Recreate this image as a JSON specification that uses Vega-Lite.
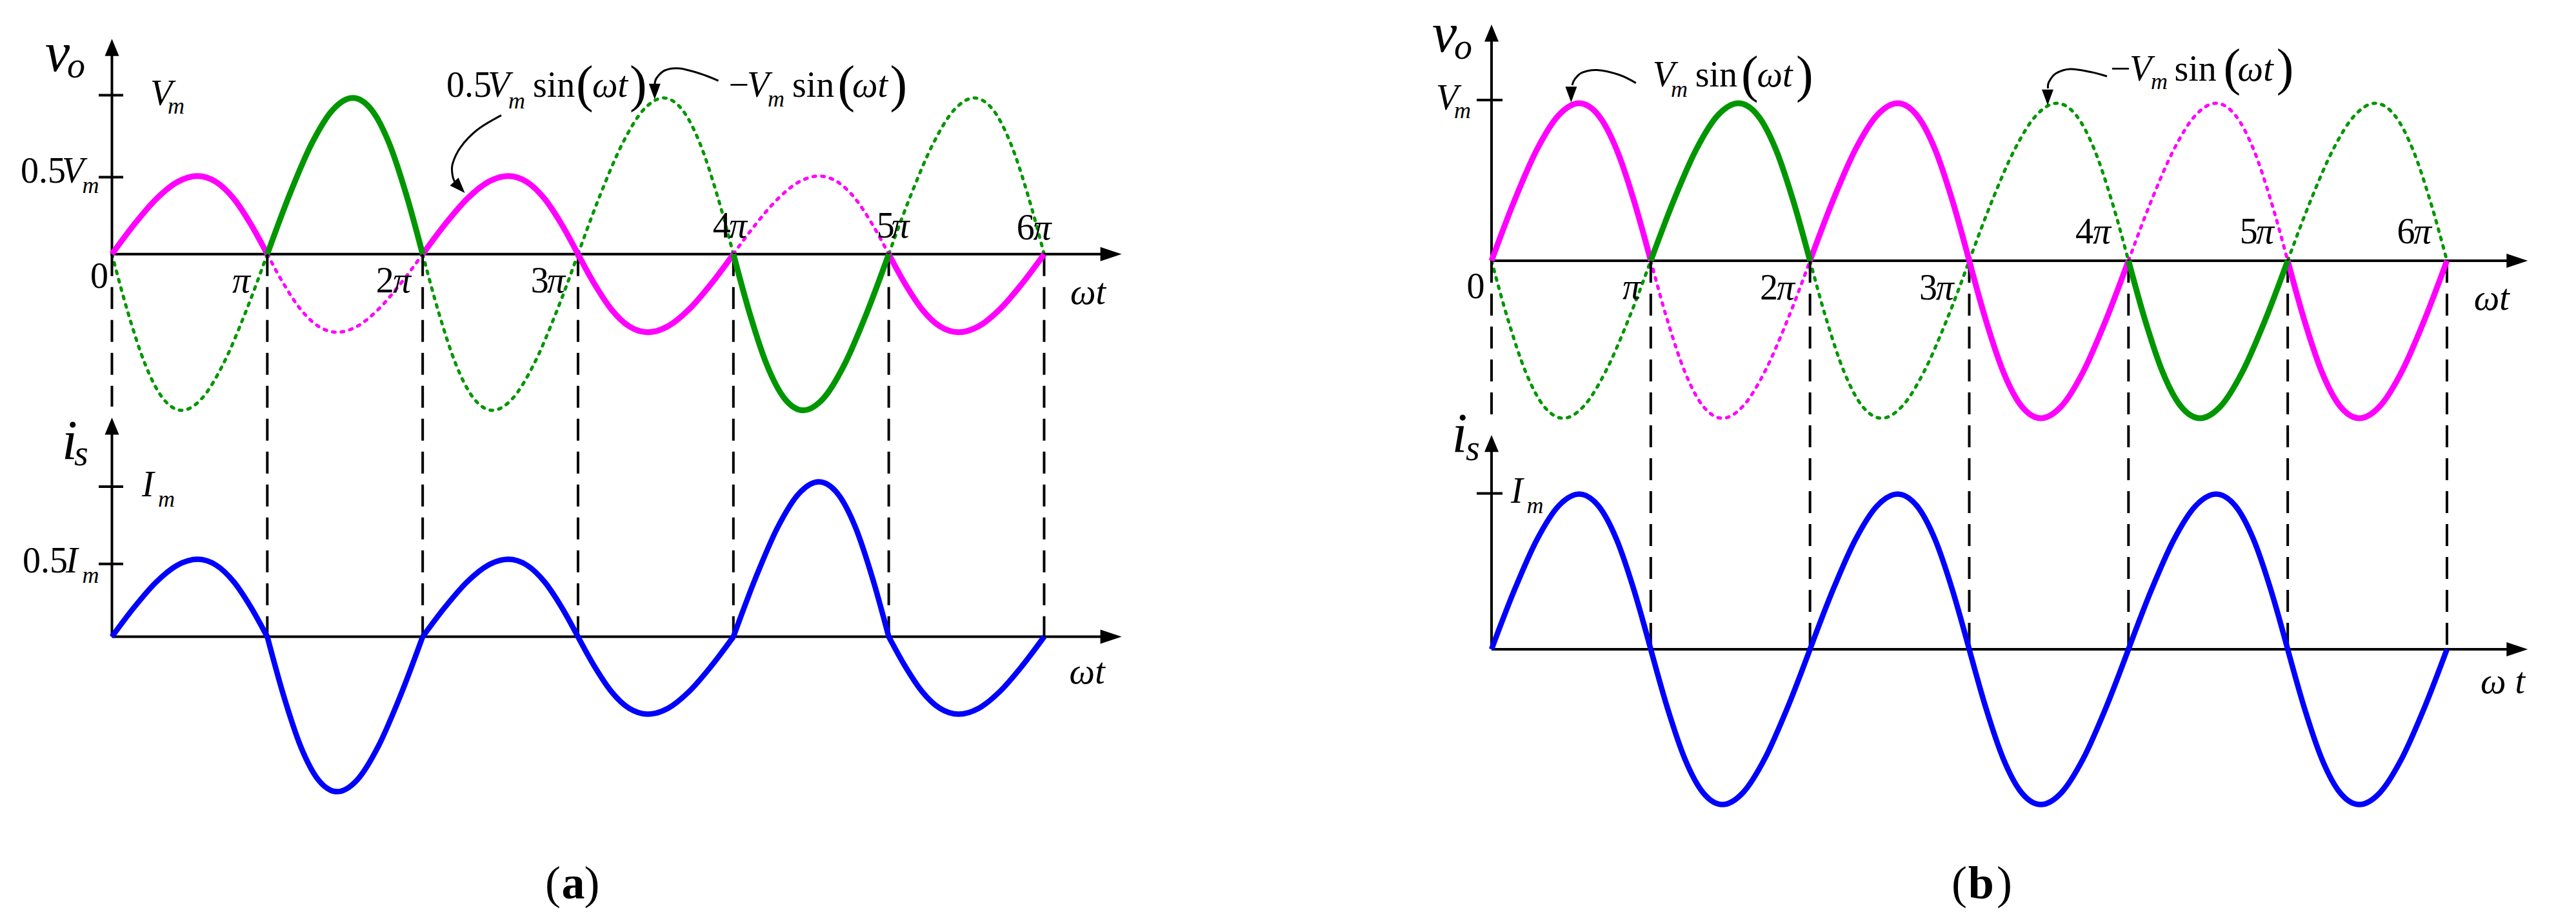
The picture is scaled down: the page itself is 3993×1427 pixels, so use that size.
{
"$schema": "https://vega.github.io/schema/vega-lite/v6.json",
"width": 3993, "height": 1427,
"autosize": {"type": "fit", "contains": "padding"},
"padding": 0,
"background": "white",
"config": {"view": {"stroke": null}, "axis": {"disable": true}, "legend": {"disable": true}},
"resolve": {"scale": {"x": "independent", "y": "independent"}},
"datasets": {
"avo": [
{"k":"gd","g":0,"x":0,"y":0},{"k":"gd","g":0,"x":0.1059,"y":-0.3827},{"k":"gd","g":0,"x":0.2146,"y":-0.7071},{"k":"gd","g":0,"x":0.3288,"y":-0.9239},{"k":"gd","g":0,"x":0.45,"y":-1},{"k":"gd","g":0,"x":0.5788,"y":-0.9239},{"k":"gd","g":0,"x":0.7146,"y":-0.7071},{"k":"gd","g":0,"x":0.8559,"y":-0.3827},{"k":"gd","g":0,"x":1,"y":0},
{"k":"gd","g":2,"x":2,"y":0},{"k":"gd","g":2,"x":2.1059,"y":-0.3827},{"k":"gd","g":2,"x":2.2146,"y":-0.7071},{"k":"gd","g":2,"x":2.3288,"y":-0.9239},{"k":"gd","g":2,"x":2.45,"y":-1},{"k":"gd","g":2,"x":2.5788,"y":-0.9239},{"k":"gd","g":2,"x":2.7146,"y":-0.7071},{"k":"gd","g":2,"x":2.8559,"y":-0.3827},{"k":"gd","g":2,"x":3,"y":0},
{"k":"gd","g":3,"x":3,"y":0},{"k":"gd","g":3,"x":3.1441,"y":0.3827},{"k":"gd","g":3,"x":3.2854,"y":0.7071},{"k":"gd","g":3,"x":3.4212,"y":0.9239},{"k":"gd","g":3,"x":3.55,"y":1},{"k":"gd","g":3,"x":3.6712,"y":0.9239},{"k":"gd","g":3,"x":3.7854,"y":0.7071},{"k":"gd","g":3,"x":3.8941,"y":0.3827},{"k":"gd","g":3,"x":4,"y":0},
{"k":"gd","g":5,"x":5,"y":0},{"k":"gd","g":5,"x":5.1441,"y":0.3827},{"k":"gd","g":5,"x":5.2854,"y":0.7071},{"k":"gd","g":5,"x":5.4212,"y":0.9239},{"k":"gd","g":5,"x":5.55,"y":1},{"k":"gd","g":5,"x":5.6712,"y":0.9239},{"k":"gd","g":5,"x":5.7854,"y":0.7071},{"k":"gd","g":5,"x":5.8941,"y":0.3827},{"k":"gd","g":5,"x":6,"y":0},
{"k":"md","g":1,"x":1,"y":0},{"k":"md","g":1,"x":1.1059,"y":-0.1913},{"k":"md","g":1,"x":1.2146,"y":-0.3536},{"k":"md","g":1,"x":1.3288,"y":-0.4619},{"k":"md","g":1,"x":1.45,"y":-0.5},{"k":"md","g":1,"x":1.5788,"y":-0.4619},{"k":"md","g":1,"x":1.7146,"y":-0.3536},{"k":"md","g":1,"x":1.8559,"y":-0.1913},{"k":"md","g":1,"x":2,"y":0},
{"k":"md","g":4,"x":4,"y":0},{"k":"md","g":4,"x":4.1441,"y":0.1913},{"k":"md","g":4,"x":4.2854,"y":0.3536},{"k":"md","g":4,"x":4.4212,"y":0.4619},{"k":"md","g":4,"x":4.55,"y":0.5},{"k":"md","g":4,"x":4.6712,"y":0.4619},{"k":"md","g":4,"x":4.7854,"y":0.3536},{"k":"md","g":4,"x":4.8941,"y":0.1913},{"k":"md","g":4,"x":5,"y":0},
{"k":"ms","g":0,"x":0,"y":0},{"k":"ms","g":0,"x":0.1441,"y":0.1913},{"k":"ms","g":0,"x":0.2854,"y":0.3536},{"k":"ms","g":0,"x":0.4212,"y":0.4619},{"k":"ms","g":0,"x":0.55,"y":0.5},{"k":"ms","g":0,"x":0.6712,"y":0.4619},{"k":"ms","g":0,"x":0.7854,"y":0.3536},{"k":"ms","g":0,"x":0.8941,"y":0.1913},{"k":"ms","g":0,"x":1,"y":0},
{"k":"ms","g":2,"x":2,"y":0},{"k":"ms","g":2,"x":2.1441,"y":0.1913},{"k":"ms","g":2,"x":2.2854,"y":0.3536},{"k":"ms","g":2,"x":2.4212,"y":0.4619},{"k":"ms","g":2,"x":2.55,"y":0.5},{"k":"ms","g":2,"x":2.6712,"y":0.4619},{"k":"ms","g":2,"x":2.7854,"y":0.3536},{"k":"ms","g":2,"x":2.8941,"y":0.1913},{"k":"ms","g":2,"x":3,"y":0},
{"k":"ms","g":3,"x":3,"y":0},{"k":"ms","g":3,"x":3.1059,"y":-0.1913},{"k":"ms","g":3,"x":3.2146,"y":-0.3536},{"k":"ms","g":3,"x":3.3288,"y":-0.4619},{"k":"ms","g":3,"x":3.45,"y":-0.5},{"k":"ms","g":3,"x":3.5788,"y":-0.4619},{"k":"ms","g":3,"x":3.7146,"y":-0.3536},{"k":"ms","g":3,"x":3.8559,"y":-0.1913},{"k":"ms","g":3,"x":4,"y":0},
{"k":"ms","g":5,"x":5,"y":0},{"k":"ms","g":5,"x":5.1059,"y":-0.1913},{"k":"ms","g":5,"x":5.2146,"y":-0.3536},{"k":"ms","g":5,"x":5.3288,"y":-0.4619},{"k":"ms","g":5,"x":5.45,"y":-0.5},{"k":"ms","g":5,"x":5.5788,"y":-0.4619},{"k":"ms","g":5,"x":5.7146,"y":-0.3536},{"k":"ms","g":5,"x":5.8559,"y":-0.1913},{"k":"ms","g":5,"x":6,"y":0},
{"k":"gs","g":1,"x":1,"y":0},{"k":"gs","g":1,"x":1.1441,"y":0.3827},{"k":"gs","g":1,"x":1.2854,"y":0.7071},{"k":"gs","g":1,"x":1.4212,"y":0.9239},{"k":"gs","g":1,"x":1.55,"y":1},{"k":"gs","g":1,"x":1.6712,"y":0.9239},{"k":"gs","g":1,"x":1.7854,"y":0.7071},{"k":"gs","g":1,"x":1.8941,"y":0.3827},{"k":"gs","g":1,"x":2,"y":0},
{"k":"gs","g":4,"x":4,"y":0},{"k":"gs","g":4,"x":4.1059,"y":-0.3827},{"k":"gs","g":4,"x":4.2146,"y":-0.7071},{"k":"gs","g":4,"x":4.3288,"y":-0.9239},{"k":"gs","g":4,"x":4.45,"y":-1},{"k":"gs","g":4,"x":4.5788,"y":-0.9239},{"k":"gs","g":4,"x":4.7146,"y":-0.7071},{"k":"gs","g":4,"x":4.8559,"y":-0.3827},{"k":"gs","g":4,"x":5,"y":0}
],
"ais": [
{"g":0,"x":0,"y":0},{"g":0,"x":0.1441,"y":0.1913},{"g":0,"x":0.2854,"y":0.3536},{"g":0,"x":0.4212,"y":0.4619},{"g":0,"x":0.55,"y":0.5},{"g":0,"x":0.6712,"y":0.4619},{"g":0,"x":0.7854,"y":0.3536},{"g":0,"x":0.8941,"y":0.1913},{"g":0,"x":1,"y":0},
{"g":1,"x":1,"y":0},{"g":1,"x":1.1059,"y":-0.3827},{"g":1,"x":1.2146,"y":-0.7071},{"g":1,"x":1.3288,"y":-0.9239},{"g":1,"x":1.45,"y":-1},{"g":1,"x":1.5788,"y":-0.9239},{"g":1,"x":1.7146,"y":-0.7071},{"g":1,"x":1.8559,"y":-0.3827},{"g":1,"x":2,"y":0},
{"g":2,"x":2,"y":0},{"g":2,"x":2.1441,"y":0.1913},{"g":2,"x":2.2854,"y":0.3536},{"g":2,"x":2.4212,"y":0.4619},{"g":2,"x":2.55,"y":0.5},{"g":2,"x":2.6712,"y":0.4619},{"g":2,"x":2.7854,"y":0.3536},{"g":2,"x":2.8941,"y":0.1913},{"g":2,"x":3,"y":0},
{"g":3,"x":3,"y":0},{"g":3,"x":3.1059,"y":-0.1913},{"g":3,"x":3.2146,"y":-0.3536},{"g":3,"x":3.3288,"y":-0.4619},{"g":3,"x":3.45,"y":-0.5},{"g":3,"x":3.5788,"y":-0.4619},{"g":3,"x":3.7146,"y":-0.3536},{"g":3,"x":3.8559,"y":-0.1913},{"g":3,"x":4,"y":0},
{"g":4,"x":4,"y":0},{"g":4,"x":4.1441,"y":0.3827},{"g":4,"x":4.2854,"y":0.7071},{"g":4,"x":4.4212,"y":0.9239},{"g":4,"x":4.55,"y":1},{"g":4,"x":4.6712,"y":0.9239},{"g":4,"x":4.7854,"y":0.7071},{"g":4,"x":4.8941,"y":0.3827},{"g":4,"x":5,"y":0},
{"g":5,"x":5,"y":0},{"g":5,"x":5.1059,"y":-0.1913},{"g":5,"x":5.2146,"y":-0.3536},{"g":5,"x":5.3288,"y":-0.4619},{"g":5,"x":5.45,"y":-0.5},{"g":5,"x":5.5788,"y":-0.4619},{"g":5,"x":5.7146,"y":-0.3536},{"g":5,"x":5.8559,"y":-0.1913},{"g":5,"x":6,"y":0}
],
"bvo": [
{"k":"gd","g":0,"x":0,"y":0},{"k":"gd","g":0,"x":0.1059,"y":-0.3827},{"k":"gd","g":0,"x":0.2146,"y":-0.7071},{"k":"gd","g":0,"x":0.3288,"y":-0.9239},{"k":"gd","g":0,"x":0.45,"y":-1},{"k":"gd","g":0,"x":0.5788,"y":-0.9239},{"k":"gd","g":0,"x":0.7146,"y":-0.7071},{"k":"gd","g":0,"x":0.8559,"y":-0.3827},{"k":"gd","g":0,"x":1,"y":0},
{"k":"gd","g":2,"x":2,"y":0},{"k":"gd","g":2,"x":2.1059,"y":-0.3827},{"k":"gd","g":2,"x":2.2146,"y":-0.7071},{"k":"gd","g":2,"x":2.3288,"y":-0.9239},{"k":"gd","g":2,"x":2.45,"y":-1},{"k":"gd","g":2,"x":2.5788,"y":-0.9239},{"k":"gd","g":2,"x":2.7146,"y":-0.7071},{"k":"gd","g":2,"x":2.8559,"y":-0.3827},{"k":"gd","g":2,"x":3,"y":0},
{"k":"gd","g":3,"x":3,"y":0},{"k":"gd","g":3,"x":3.1441,"y":0.3827},{"k":"gd","g":3,"x":3.2854,"y":0.7071},{"k":"gd","g":3,"x":3.4212,"y":0.9239},{"k":"gd","g":3,"x":3.55,"y":1},{"k":"gd","g":3,"x":3.6712,"y":0.9239},{"k":"gd","g":3,"x":3.7854,"y":0.7071},{"k":"gd","g":3,"x":3.8941,"y":0.3827},{"k":"gd","g":3,"x":4,"y":0},
{"k":"gd","g":5,"x":5,"y":0},{"k":"gd","g":5,"x":5.1441,"y":0.3827},{"k":"gd","g":5,"x":5.2854,"y":0.7071},{"k":"gd","g":5,"x":5.4212,"y":0.9239},{"k":"gd","g":5,"x":5.55,"y":1},{"k":"gd","g":5,"x":5.6712,"y":0.9239},{"k":"gd","g":5,"x":5.7854,"y":0.7071},{"k":"gd","g":5,"x":5.8941,"y":0.3827},{"k":"gd","g":5,"x":6,"y":0},
{"k":"md","g":1,"x":1,"y":0},{"k":"md","g":1,"x":1.1059,"y":-0.3827},{"k":"md","g":1,"x":1.2146,"y":-0.7071},{"k":"md","g":1,"x":1.3288,"y":-0.9239},{"k":"md","g":1,"x":1.45,"y":-1},{"k":"md","g":1,"x":1.5788,"y":-0.9239},{"k":"md","g":1,"x":1.7146,"y":-0.7071},{"k":"md","g":1,"x":1.8559,"y":-0.3827},{"k":"md","g":1,"x":2,"y":0},
{"k":"md","g":4,"x":4,"y":0},{"k":"md","g":4,"x":4.1441,"y":0.3827},{"k":"md","g":4,"x":4.2854,"y":0.7071},{"k":"md","g":4,"x":4.4212,"y":0.9239},{"k":"md","g":4,"x":4.55,"y":1},{"k":"md","g":4,"x":4.6712,"y":0.9239},{"k":"md","g":4,"x":4.7854,"y":0.7071},{"k":"md","g":4,"x":4.8941,"y":0.3827},{"k":"md","g":4,"x":5,"y":0},
{"k":"ms","g":0,"x":0,"y":0},{"k":"ms","g":0,"x":0.1441,"y":0.3827},{"k":"ms","g":0,"x":0.2854,"y":0.7071},{"k":"ms","g":0,"x":0.4212,"y":0.9239},{"k":"ms","g":0,"x":0.55,"y":1},{"k":"ms","g":0,"x":0.6712,"y":0.9239},{"k":"ms","g":0,"x":0.7854,"y":0.7071},{"k":"ms","g":0,"x":0.8941,"y":0.3827},{"k":"ms","g":0,"x":1,"y":0},
{"k":"ms","g":2,"x":2,"y":0},{"k":"ms","g":2,"x":2.1441,"y":0.3827},{"k":"ms","g":2,"x":2.2854,"y":0.7071},{"k":"ms","g":2,"x":2.4212,"y":0.9239},{"k":"ms","g":2,"x":2.55,"y":1},{"k":"ms","g":2,"x":2.6712,"y":0.9239},{"k":"ms","g":2,"x":2.7854,"y":0.7071},{"k":"ms","g":2,"x":2.8941,"y":0.3827},{"k":"ms","g":2,"x":3,"y":0},
{"k":"ms","g":3,"x":3,"y":0},{"k":"ms","g":3,"x":3.1059,"y":-0.3827},{"k":"ms","g":3,"x":3.2146,"y":-0.7071},{"k":"ms","g":3,"x":3.3288,"y":-0.9239},{"k":"ms","g":3,"x":3.45,"y":-1},{"k":"ms","g":3,"x":3.5788,"y":-0.9239},{"k":"ms","g":3,"x":3.7146,"y":-0.7071},{"k":"ms","g":3,"x":3.8559,"y":-0.3827},{"k":"ms","g":3,"x":4,"y":0},
{"k":"ms","g":5,"x":5,"y":0},{"k":"ms","g":5,"x":5.1059,"y":-0.3827},{"k":"ms","g":5,"x":5.2146,"y":-0.7071},{"k":"ms","g":5,"x":5.3288,"y":-0.9239},{"k":"ms","g":5,"x":5.45,"y":-1},{"k":"ms","g":5,"x":5.5788,"y":-0.9239},{"k":"ms","g":5,"x":5.7146,"y":-0.7071},{"k":"ms","g":5,"x":5.8559,"y":-0.3827},{"k":"ms","g":5,"x":6,"y":0},
{"k":"gs","g":1,"x":1,"y":0},{"k":"gs","g":1,"x":1.1441,"y":0.3827},{"k":"gs","g":1,"x":1.2854,"y":0.7071},{"k":"gs","g":1,"x":1.4212,"y":0.9239},{"k":"gs","g":1,"x":1.55,"y":1},{"k":"gs","g":1,"x":1.6712,"y":0.9239},{"k":"gs","g":1,"x":1.7854,"y":0.7071},{"k":"gs","g":1,"x":1.8941,"y":0.3827},{"k":"gs","g":1,"x":2,"y":0},
{"k":"gs","g":4,"x":4,"y":0},{"k":"gs","g":4,"x":4.1059,"y":-0.3827},{"k":"gs","g":4,"x":4.2146,"y":-0.7071},{"k":"gs","g":4,"x":4.3288,"y":-0.9239},{"k":"gs","g":4,"x":4.45,"y":-1},{"k":"gs","g":4,"x":4.5788,"y":-0.9239},{"k":"gs","g":4,"x":4.7146,"y":-0.7071},{"k":"gs","g":4,"x":4.8559,"y":-0.3827},{"k":"gs","g":4,"x":5,"y":0}
],
"bis": [
{"g":0,"x":0,"y":0},{"g":0,"x":0.1441,"y":0.3827},{"g":0,"x":0.2854,"y":0.7071},{"g":0,"x":0.4212,"y":0.9239},{"g":0,"x":0.55,"y":1},{"g":0,"x":0.6712,"y":0.9239},{"g":0,"x":0.7854,"y":0.7071},{"g":0,"x":0.8941,"y":0.3827},{"g":0,"x":1,"y":0},
{"g":1,"x":1,"y":0},{"g":1,"x":1.1059,"y":-0.3827},{"g":1,"x":1.2146,"y":-0.7071},{"g":1,"x":1.3288,"y":-0.9239},{"g":1,"x":1.45,"y":-1},{"g":1,"x":1.5788,"y":-0.9239},{"g":1,"x":1.7146,"y":-0.7071},{"g":1,"x":1.8559,"y":-0.3827},{"g":1,"x":2,"y":0},
{"g":2,"x":2,"y":0},{"g":2,"x":2.1441,"y":0.3827},{"g":2,"x":2.2854,"y":0.7071},{"g":2,"x":2.4212,"y":0.9239},{"g":2,"x":2.55,"y":1},{"g":2,"x":2.6712,"y":0.9239},{"g":2,"x":2.7854,"y":0.7071},{"g":2,"x":2.8941,"y":0.3827},{"g":2,"x":3,"y":0},
{"g":3,"x":3,"y":0},{"g":3,"x":3.1059,"y":-0.3827},{"g":3,"x":3.2146,"y":-0.7071},{"g":3,"x":3.3288,"y":-0.9239},{"g":3,"x":3.45,"y":-1},{"g":3,"x":3.5788,"y":-0.9239},{"g":3,"x":3.7146,"y":-0.7071},{"g":3,"x":3.8559,"y":-0.3827},{"g":3,"x":4,"y":0},
{"g":4,"x":4,"y":0},{"g":4,"x":4.1441,"y":0.3827},{"g":4,"x":4.2854,"y":0.7071},{"g":4,"x":4.4212,"y":0.9239},{"g":4,"x":4.55,"y":1},{"g":4,"x":4.6712,"y":0.9239},{"g":4,"x":4.7854,"y":0.7071},{"g":4,"x":4.8941,"y":0.3827},{"g":4,"x":5,"y":0},
{"g":5,"x":5,"y":0},{"g":5,"x":5.1059,"y":-0.3827},{"g":5,"x":5.2146,"y":-0.7071},{"g":5,"x":5.3288,"y":-0.9239},{"g":5,"x":5.45,"y":-1},{"g":5,"x":5.5788,"y":-0.9239},{"g":5,"x":5.7146,"y":-0.7071},{"g":5,"x":5.8559,"y":-0.3827},{"g":5,"x":6,"y":0}
],
"adash": [{"x":0,"y":0,"y2":-0.976},{"x":1,"y":0,"y2":-2.4498},{"x":2,"y":0,"y2":-2.4498},{"x":3,"y":0,"y2":-2.4498},{"x":4,"y":0,"y2":-2.4498},{"x":5,"y":0,"y2":-2.4498},{"x":6,"y":0,"y2":-2.4498}],
"bdash": [{"x":0,"y":0,"y2":-1.008},{"x":1,"y":0,"y2":-2.4672},{"x":2,"y":0,"y2":-2.4672},{"x":3,"y":0,"y2":-2.4672},{"x":4,"y":0,"y2":-2.4672},{"x":5,"y":0,"y2":-2.4672},{"x":6,"y":0,"y2":-2.4672}],
"aax": [{"x":0,"x2":6.45,"y":0,"y2":0},{"x":0,"x2":0,"y":0,"y2":1.32},{"x":-0.085,"x2":0.0727,"y":1.018,"y2":1.018},{"x":-0.085,"x2":0.0727,"y":0.4928,"y2":0.4928}],
"aaxi": [{"x":0,"x2":6.45,"y":0,"y2":0},{"x":0,"x2":0,"y":0,"y2":1.36},{"x":-0.085,"x2":0.0727,"y":0.969,"y2":0.969},{"x":-0.085,"x2":0.0727,"y":0.47,"y2":0.47}],
"bax": [{"x":0,"x2":6.46,"y":0,"y2":0},{"x":0,"x2":0,"y":0,"y2":1.45},{"x":-0.0932,"x2":0.0689,"y":1.0205,"y2":1.0205}],
"baxi": [{"x":0,"x2":6.46,"y":0,"y2":0},{"x":0,"x2":0,"y":0,"y2":1.33},{"x":-0.0932,"x2":0.0689,"y":1.0037,"y2":1.0037}],
"ahd": [{"x":0,"y":1.378,"d":"up"},{"x":6.4988,"y":0,"d":"right"},{"x":2.2717,"y":0.3915,"d":"dr"},{"x":3.4933,"y":0.9907,"d":"dn"}],
"ahdi": [{"x":0,"y":1.415,"d":"up"},{"x":6.4988,"y":0,"d":"right"}],
"bhd": [{"x":0,"y":1.5,"d":"up"},{"x":6.5077,"y":0,"d":"right"},{"x":0.4999,"y":1.0061,"d":"dn"},{"x":3.4923,"y":0.9877,"d":"dn"}],
"bhdi": [{"x":0,"y":1.381,"d":"up"},{"x":6.5077,"y":0,"d":"right"}],
"aann": [
{"g":1,"o":0,"x":2.5059,"y":0.889},{"g":1,"o":1,"x":2.3523,"y":0.7965},{"g":1,"o":2,"x":2.2443,"y":0.6849},{"g":1,"o":3,"x":2.1924,"y":0.5775},{"g":1,"o":4,"x":2.1924,"y":0.5031},{"g":1,"o":5,"x":2.2069,"y":0.4618},
{"g":2,"o":0,"x":3.9036,"y":1.1105},{"g":2,"o":1,"x":3.7849,"y":1.156},{"g":2,"o":2,"x":3.652,"y":1.189},{"g":2,"o":3,"x":3.5594,"y":1.1767},{"g":2,"o":4,"x":3.5066,"y":1.1291},{"g":2,"o":5,"x":3.4942,"y":1.0899}
],
"bann": [
{"g":1,"o":0,"x":0.9067,"y":1.1287},{"g":1,"o":1,"x":0.8022,"y":1.1803},{"g":1,"o":2,"x":0.6624,"y":1.2111},{"g":1,"o":3,"x":0.5696,"y":1.1947},{"g":1,"o":4,"x":0.5226,"y":1.1525},{"g":1,"o":5,"x":0.5064,"y":1.1148},
{"g":2,"o":0,"x":3.865,"y":1.1709},{"g":2,"o":1,"x":3.7625,"y":1.1984},{"g":2,"o":2,"x":3.6341,"y":1.2172},{"g":2,"o":3,"x":3.5441,"y":1.1893},{"g":2,"o":4,"x":3.5004,"y":1.1352},{"g":2,"o":5,"x":3.4943,"y":1.0943}
],
"atxt": [
{"r":"n","x":-0.1391,"y":-0.2159,"t":"0"},{"r":"n","x":1.6995,"y":-0.2449,"t":"2"},{"r":"n","x":2.696,"y":-0.2449,"t":"3"},{"r":"n","x":3.8667,"y":0.1064,"t":"4"},{"r":"n","x":4.9214,"y":0.1064,"t":"5"},{"r":"n","x":5.8224,"y":0.0961,"t":"6"},
{"r":"n","x":-0.5876,"y":0.4576,"t":"0.5"},{"r":"n","x":2.153,"y":1.0072,"t":"0.5"},{"r":"n","x":2.7092,"y":1.0072,"t":"sin"},{"r":"n","x":3.97,"y":1.0089,"t":"−"},{"r":"n","x":4.3785,"y":1.0089,"t":"sin"},{"r":"n","x":-0.5751,"y":-2.0382,"t":"0.5"},
{"r":"v","x":0.7744,"y":-0.2449,"t":"π"},{"r":"v","x":1.8083,"y":-0.2449,"t":"π"},{"r":"v","x":2.8007,"y":-0.2449,"t":"π"},{"r":"v","x":3.9716,"y":0.1064,"t":"π"},{"r":"v","x":5.016,"y":0.1064,"t":"π"},{"r":"v","x":5.9295,"y":0.0961,"t":"π"},
{"r":"v","x":0.2471,"y":0.9556,"t":"V"},{"r":"v","x":-0.3218,"y":0.4576,"t":"V"},{"r":"v","x":2.4187,"y":1.0072,"t":"V"},{"r":"v","x":3.0914,"y":1.0072,"t":"ωt"},{"r":"v","x":4.0879,"y":1.0089,"t":"V"},{"r":"v","x":4.7647,"y":1.0089,"t":"ωt"},
{"r":"v","x":6.1683,"y":-0.3192,"t":"ωt"},{"r":"v","x":6.1625,"y":-2.749,"t":"ωt"},{"r":"v","x":0.1931,"y":-1.5506,"t":"I"},{"r":"v","x":-0.2969,"y":-2.0382,"t":"I"},{"r":"v","x":-0.2886,"y":1.1312,"t":"o"},{"r":"v","x":-0.2429,"y":-1.3523,"t":"s"},
{"r":"s","x":0.3592,"y":0.8998,"t":"m"},{"r":"s","x":-0.191,"y":0.3915,"t":"m"},{"r":"s","x":2.5516,"y":0.9349,"t":"m"},{"r":"s","x":4.2208,"y":0.9452,"t":"m"},{"r":"s","x":0.2969,"y":-1.6167,"t":"m"},{"r":"s","x":-0.191,"y":-2.1043,"t":"m"},
{"r":"V","x":-0.4298,"y":1.1725,"t":"v"},{"r":"V","x":-0.3218,"y":-1.311,"t":"i"},
{"r":"p","x":2.9876,"y":0.9783,"t":"("},{"r":"p","x":3.3323,"y":0.9783,"t":")"},{"r":"p","x":4.6718,"y":0.9783,"t":"("},{"r":"p","x":5.0081,"y":0.9783,"t":")"},
{"r":"q","x":2.7882,"y":-4.125,"t":"("},{"r":"q","x":3.0399,"y":-4.125,"t":")"},{"r":"b","x":2.8942,"y":-4.125,"t":"a"}
],
"btxt": [
{"r":"n","x":-0.156,"y":-0.2377,"t":"0"},{"r":"n","x":1.6854,"y":-0.2459,"t":"2"},{"r":"n","x":2.6861,"y":-0.2459,"t":"3"},{"r":"n","x":3.6665,"y":0.1107,"t":"4"},{"r":"n","x":4.6988,"y":0.1107,"t":"5"},{"r":"n","x":5.6865,"y":0.1107,"t":"6"},
{"r":"n","x":1.279,"y":1.1066,"t":"sin"},{"r":"n","x":3.8853,"y":1.1434,"t":"−"},{"r":"n","x":4.2884,"y":1.1434,"t":"sin"},
{"r":"v","x":0.8224,"y":-0.2418,"t":"π"},{"r":"v","x":1.7907,"y":-0.2459,"t":"π"},{"r":"v","x":2.7906,"y":-0.2459,"t":"π"},{"r":"v","x":3.7759,"y":0.1107,"t":"π"},{"r":"v","x":4.8009,"y":0.1107,"t":"π"},{"r":"v","x":5.7894,"y":0.1107,"t":"π"},
{"r":"v","x":-0.3484,"y":0.959,"t":"V"},{"r":"v","x":1.0116,"y":1.1066,"t":"V"},{"r":"v","x":1.6671,"y":1.1066,"t":"ωt"},{"r":"v","x":4.0068,"y":1.1434,"t":"V"},{"r":"v","x":4.6858,"y":1.1434,"t":"ωt"},
{"r":"v","x":6.169,"y":-0.3115,"t":"ωt"},{"r":"v","x":6.2107,"y":-2.7459,"t":"ω t"},{"r":"v","x":0.1215,"y":-1.5369,"t":"I"},{"r":"v","x":-0.235,"y":1.2828,"t":"o"},{"r":"v","x":-0.1621,"y":-1.2664,"t":"s"},
{"r":"s","x":-0.235,"y":0.9057,"t":"m"},{"r":"s","x":1.1263,"y":1.0426,"t":"m"},{"r":"s","x":4.1405,"y":1.0902,"t":"m"},{"r":"s","x":0.2208,"y":-1.6025,"t":"m"},
{"r":"V","x":-0.3727,"y":1.3279,"t":"v"},{"r":"V","x":-0.2492,"y":-1.2131,"t":"i"},
{"r":"p","x":1.5679,"y":1.0738,"t":"("},{"r":"p","x":1.9122,"y":1.0738,"t":")"},{"r":"p","x":4.5963,"y":1.1189,"t":"("},{"r":"p","x":4.9297,"y":1.1189,"t":")"},
{"r":"q","x":2.8886,"y":-4.0492,"t":"("},{"r":"q","x":3.1722,"y":-4.0492,"t":")"},{"r":"b","x":2.9927,"y":-4.0492,"t":"b"}
]
},
"layer": [
{"data":{"name":"avo"},"transform":[{"filter":"datum.k == 'gd' || datum.k == 'md'"}],
 "mark":{"type":"line","interpolate":"monotone","strokeWidth":5,"strokeDash":[4,9.5],"strokeCap":"round"},
 "encoding":{"x":{"field":"x","type":"quantitative","scale":{"domain":[-0.7204,15.8597],"nice":false,"zero":false}},
  "y":{"field":"y","type":"quantitative","scale":{"domain":[-4.2696,1.6271],"nice":false,"zero":false}},
  "detail":{"field":"g","type":"nominal"},
  "color":{"field":"k","type":"nominal","scale":{"domain":["ms","gs","md","gd"],"range":["#ff00ff","#009600","#ff00ff","#009600"]},"legend":null}}},
{"data":{"name":"adash"},"mark":{"type":"rule","strokeWidth":4,"strokeDash":[34,17],"color":"black"},
 "encoding":{"x":{"field":"x","type":"quantitative","scale":{"domain":[-0.7204,15.8597],"nice":false,"zero":false}},
  "y":{"field":"y","type":"quantitative","scale":{"domain":[-4.2696,1.6271],"nice":false,"zero":false}},
  "y2":{"field":"y2"}}},
{"data":{"name":"aax"},"mark":{"type":"rule","strokeWidth":4,"color":"black"},
 "encoding":{"x":{"field":"x","type":"quantitative","scale":{"domain":[-0.7204,15.8597],"nice":false,"zero":false}},"x2":{"field":"x2"},
  "y":{"field":"y","type":"quantitative","scale":{"domain":[-4.2696,1.6271],"nice":false,"zero":false}},"y2":{"field":"y2"}}},
{"data":{"name":"aaxi"},"mark":{"type":"rule","strokeWidth":4,"color":"black"},
 "encoding":{"x":{"field":"x","type":"quantitative","scale":{"domain":[-0.7204,15.8597],"nice":false,"zero":false}},"x2":{"field":"x2"},
  "y":{"field":"y","type":"quantitative","scale":{"domain":[-1.835,4.1108],"nice":false,"zero":false}},"y2":{"field":"y2"}}},
{"data":{"name":"avo"},"transform":[{"filter":"datum.k == 'ms' || datum.k == 'gs'"}],
 "mark":{"type":"line","interpolate":"monotone","strokeWidth":9},
 "encoding":{"x":{"field":"x","type":"quantitative","scale":{"domain":[-0.7204,15.8597],"nice":false,"zero":false}},
  "y":{"field":"y","type":"quantitative","scale":{"domain":[-4.2696,1.6271],"nice":false,"zero":false}},
  "detail":{"field":"g","type":"nominal"},
  "color":{"field":"k","type":"nominal","scale":{"domain":["ms","gs","md","gd"],"range":["#ff00ff","#009600","#ff00ff","#009600"]},"legend":null}}},
{"data":{"name":"ais"},"mark":{"type":"line","interpolate":"monotone","strokeWidth":8.5,"color":"#0000ff"},
 "encoding":{"x":{"field":"x","type":"quantitative","scale":{"domain":[-0.7204,15.8597],"nice":false,"zero":false}},
  "y":{"field":"y","type":"quantitative","scale":{"domain":[-1.835,4.1108],"nice":false,"zero":false}},
  "detail":{"field":"g","type":"nominal"}}},
{"data":{"name":"ahd"},"mark":{"type":"point","filled":true,"size":484,"opacity":1,"color":"black","strokeWidth":0},
 "encoding":{"x":{"field":"x","type":"quantitative","scale":{"domain":[-0.7204,15.8597],"nice":false,"zero":false}},
  "y":{"field":"y","type":"quantitative","scale":{"domain":[-4.2696,1.6271],"nice":false,"zero":false}},
  "shape":{"field":"d","type":"nominal","scale":{"domain":["up","right","dn","dr"],"range":["M0,0L-1,2.4L1,2.4Z","M0,0L-3,-1L-3,1Z","M0,0L-0.818,-2.2L0.818,-2.2Z","M0,0L-0.902,-2.166L-2.098,-1.05Z"]},"legend":null}}},
{"data":{"name":"ahdi"},"mark":{"type":"point","filled":true,"size":484,"opacity":1,"color":"black","strokeWidth":0},
 "encoding":{"x":{"field":"x","type":"quantitative","scale":{"domain":[-0.7204,15.8597],"nice":false,"zero":false}},
  "y":{"field":"y","type":"quantitative","scale":{"domain":[-1.835,4.1108],"nice":false,"zero":false}},
  "shape":{"field":"d","type":"nominal","scale":{"domain":["up","right","dn","dr"],"range":["M0,0L-1,2.4L1,2.4Z","M0,0L-3,-1L-3,1Z","M0,0L-0.818,-2.2L0.818,-2.2Z","M0,0L-0.902,-2.166L-2.098,-1.05Z"]},"legend":null}}},
{"data":{"name":"aann"},"mark":{"type":"line","interpolate":"cardinal","strokeWidth":3,"color":"black"},
 "encoding":{"x":{"field":"x","type":"quantitative","scale":{"domain":[-0.7204,15.8597],"nice":false,"zero":false}},
  "y":{"field":"y","type":"quantitative","scale":{"domain":[-4.2696,1.6271],"nice":false,"zero":false}},
  "detail":{"field":"g","type":"nominal"},"order":{"field":"o","type":"quantitative"}}},
{"data":{"name":"atxt"},"transform":[{"filter":"datum.r == 'n'"}],"mark":{"type":"text","font":"Liberation Serif","fontSize":56,"align":"left","baseline":"alphabetic","color":"black"},
 "encoding":{"x":{"field":"x","type":"quantitative","scale":{"domain":[-0.7204,15.8597],"nice":false,"zero":false}},"y":{"field":"y","type":"quantitative","scale":{"domain":[-4.2696,1.6271],"nice":false,"zero":false}},"text":{"field":"t"}}},
{"data":{"name":"atxt"},"transform":[{"filter":"datum.r == 'v'"}],"mark":{"type":"text","font":"Liberation Serif","fontStyle":"italic","fontSize":56,"align":"left","baseline":"alphabetic","color":"black"},
 "encoding":{"x":{"field":"x","type":"quantitative","scale":{"domain":[-0.7204,15.8597],"nice":false,"zero":false}},"y":{"field":"y","type":"quantitative","scale":{"domain":[-4.2696,1.6271],"nice":false,"zero":false}},"text":{"field":"t"}}},
{"data":{"name":"atxt"},"transform":[{"filter":"datum.r == 's'"}],"mark":{"type":"text","font":"Liberation Serif","fontStyle":"italic","fontSize":36,"align":"left","baseline":"alphabetic","color":"black"},
 "encoding":{"x":{"field":"x","type":"quantitative","scale":{"domain":[-0.7204,15.8597],"nice":false,"zero":false}},"y":{"field":"y","type":"quantitative","scale":{"domain":[-4.2696,1.6271],"nice":false,"zero":false}},"text":{"field":"t"}}},
{"data":{"name":"atxt"},"transform":[{"filter":"datum.r == 'V'"}],"mark":{"type":"text","font":"Liberation Serif","fontStyle":"italic","fontSize":86,"align":"left","baseline":"alphabetic","color":"black"},
 "encoding":{"x":{"field":"x","type":"quantitative","scale":{"domain":[-0.7204,15.8597],"nice":false,"zero":false}},"y":{"field":"y","type":"quantitative","scale":{"domain":[-4.2696,1.6271],"nice":false,"zero":false}},"text":{"field":"t"}}},
{"data":{"name":"atxt"},"transform":[{"filter":"datum.r == 'p'"}],"mark":{"type":"text","font":"Liberation Serif","fontSize":80,"align":"left","baseline":"alphabetic","color":"black"},
 "encoding":{"x":{"field":"x","type":"quantitative","scale":{"domain":[-0.7204,15.8597],"nice":false,"zero":false}},"y":{"field":"y","type":"quantitative","scale":{"domain":[-4.2696,1.6271],"nice":false,"zero":false}},"text":{"field":"t"}}},
{"data":{"name":"atxt"},"transform":[{"filter":"datum.r == 'q'"}],"mark":{"type":"text","font":"Liberation Serif","fontSize":72,"align":"left","baseline":"alphabetic","color":"black"},
 "encoding":{"x":{"field":"x","type":"quantitative","scale":{"domain":[-0.7204,15.8597],"nice":false,"zero":false}},"y":{"field":"y","type":"quantitative","scale":{"domain":[-4.2696,1.6271],"nice":false,"zero":false}},"text":{"field":"t"}}},
{"data":{"name":"atxt"},"transform":[{"filter":"datum.r == 'b'"}],"mark":{"type":"text","font":"Liberation Serif","fontWeight":"bold","fontSize":72,"align":"left","baseline":"alphabetic","color":"black"},
 "encoding":{"x":{"field":"x","type":"quantitative","scale":{"domain":[-0.7204,15.8597],"nice":false,"zero":false}},"y":{"field":"y","type":"quantitative","scale":{"domain":[-4.2696,1.6271],"nice":false,"zero":false}},"text":{"field":"t"}}},

{"data":{"name":"bvo"},"transform":[{"filter":"datum.k == 'gd' || datum.k == 'md'"}],
 "mark":{"type":"line","interpolate":"monotone","strokeWidth":5,"strokeDash":[4,9.5],"strokeCap":"round"},
 "encoding":{"x":{"field":"x","type":"quantitative","scale":{"domain":[-9.3668,6.8104],"nice":false,"zero":false}},
  "y":{"field":"y","type":"quantitative","scale":{"domain":[-4.1926,1.6557],"nice":false,"zero":false}},
  "detail":{"field":"g","type":"nominal"},
  "color":{"field":"k","type":"nominal","scale":{"domain":["ms","gs","md","gd"],"range":["#ff00ff","#009600","#ff00ff","#009600"]},"legend":null}}},
{"data":{"name":"bdash"},"mark":{"type":"rule","strokeWidth":4,"strokeDash":[34,17],"color":"black"},
 "encoding":{"x":{"field":"x","type":"quantitative","scale":{"domain":[-9.3668,6.8104],"nice":false,"zero":false}},
  "y":{"field":"y","type":"quantitative","scale":{"domain":[-4.1926,1.6557],"nice":false,"zero":false}},
  "y2":{"field":"y2"}}},
{"data":{"name":"bax"},"mark":{"type":"rule","strokeWidth":4,"color":"black"},
 "encoding":{"x":{"field":"x","type":"quantitative","scale":{"domain":[-9.3668,6.8104],"nice":false,"zero":false}},"x2":{"field":"x2"},
  "y":{"field":"y","type":"quantitative","scale":{"domain":[-4.1926,1.6557],"nice":false,"zero":false}},"y2":{"field":"y2"}}},
{"data":{"name":"baxi"},"mark":{"type":"rule","strokeWidth":4,"color":"black"},
 "encoding":{"x":{"field":"x","type":"quantitative","scale":{"domain":[-9.3668,6.8104],"nice":false,"zero":false}},"x2":{"field":"x2"},
  "y":{"field":"y","type":"quantitative","scale":{"domain":[-1.7505,4.183],"nice":false,"zero":false}},"y2":{"field":"y2"}}},
{"data":{"name":"bvo"},"transform":[{"filter":"datum.k == 'ms' || datum.k == 'gs'"}],
 "mark":{"type":"line","interpolate":"monotone","strokeWidth":9},
 "encoding":{"x":{"field":"x","type":"quantitative","scale":{"domain":[-9.3668,6.8104],"nice":false,"zero":false}},
  "y":{"field":"y","type":"quantitative","scale":{"domain":[-4.1926,1.6557],"nice":false,"zero":false}},
  "detail":{"field":"g","type":"nominal"},
  "color":{"field":"k","type":"nominal","scale":{"domain":["ms","gs","md","gd"],"range":["#ff00ff","#009600","#ff00ff","#009600"]},"legend":null}}},
{"data":{"name":"bis"},"mark":{"type":"line","interpolate":"monotone","strokeWidth":8.5,"color":"#0000ff"},
 "encoding":{"x":{"field":"x","type":"quantitative","scale":{"domain":[-9.3668,6.8104],"nice":false,"zero":false}},
  "y":{"field":"y","type":"quantitative","scale":{"domain":[-1.7505,4.183],"nice":false,"zero":false}},
  "detail":{"field":"g","type":"nominal"}}},
{"data":{"name":"bhd"},"mark":{"type":"point","filled":true,"size":484,"opacity":1,"color":"black","strokeWidth":0},
 "encoding":{"x":{"field":"x","type":"quantitative","scale":{"domain":[-9.3668,6.8104],"nice":false,"zero":false}},
  "y":{"field":"y","type":"quantitative","scale":{"domain":[-4.1926,1.6557],"nice":false,"zero":false}},
  "shape":{"field":"d","type":"nominal","scale":{"domain":["up","right","dn","dr"],"range":["M0,0L-1,2.4L1,2.4Z","M0,0L-3,-1L-3,1Z","M0,0L-0.818,-2.2L0.818,-2.2Z","M0,0L-0.902,-2.166L-2.098,-1.05Z"]},"legend":null}}},
{"data":{"name":"bhdi"},"mark":{"type":"point","filled":true,"size":484,"opacity":1,"color":"black","strokeWidth":0},
 "encoding":{"x":{"field":"x","type":"quantitative","scale":{"domain":[-9.3668,6.8104],"nice":false,"zero":false}},
  "y":{"field":"y","type":"quantitative","scale":{"domain":[-1.7505,4.183],"nice":false,"zero":false}},
  "shape":{"field":"d","type":"nominal","scale":{"domain":["up","right","dn","dr"],"range":["M0,0L-1,2.4L1,2.4Z","M0,0L-3,-1L-3,1Z","M0,0L-0.818,-2.2L0.818,-2.2Z","M0,0L-0.902,-2.166L-2.098,-1.05Z"]},"legend":null}}},
{"data":{"name":"bann"},"mark":{"type":"line","interpolate":"cardinal","strokeWidth":3,"color":"black"},
 "encoding":{"x":{"field":"x","type":"quantitative","scale":{"domain":[-9.3668,6.8104],"nice":false,"zero":false}},
  "y":{"field":"y","type":"quantitative","scale":{"domain":[-4.1926,1.6557],"nice":false,"zero":false}},
  "detail":{"field":"g","type":"nominal"},"order":{"field":"o","type":"quantitative"}}},
{"data":{"name":"btxt"},"transform":[{"filter":"datum.r == 'n'"}],"mark":{"type":"text","font":"Liberation Serif","fontSize":56,"align":"left","baseline":"alphabetic","color":"black"},
 "encoding":{"x":{"field":"x","type":"quantitative","scale":{"domain":[-9.3668,6.8104],"nice":false,"zero":false}},"y":{"field":"y","type":"quantitative","scale":{"domain":[-4.1926,1.6557],"nice":false,"zero":false}},"text":{"field":"t"}}},
{"data":{"name":"btxt"},"transform":[{"filter":"datum.r == 'v'"}],"mark":{"type":"text","font":"Liberation Serif","fontStyle":"italic","fontSize":56,"align":"left","baseline":"alphabetic","color":"black"},
 "encoding":{"x":{"field":"x","type":"quantitative","scale":{"domain":[-9.3668,6.8104],"nice":false,"zero":false}},"y":{"field":"y","type":"quantitative","scale":{"domain":[-4.1926,1.6557],"nice":false,"zero":false}},"text":{"field":"t"}}},
{"data":{"name":"btxt"},"transform":[{"filter":"datum.r == 's'"}],"mark":{"type":"text","font":"Liberation Serif","fontStyle":"italic","fontSize":36,"align":"left","baseline":"alphabetic","color":"black"},
 "encoding":{"x":{"field":"x","type":"quantitative","scale":{"domain":[-9.3668,6.8104],"nice":false,"zero":false}},"y":{"field":"y","type":"quantitative","scale":{"domain":[-4.1926,1.6557],"nice":false,"zero":false}},"text":{"field":"t"}}},
{"data":{"name":"btxt"},"transform":[{"filter":"datum.r == 'V'"}],"mark":{"type":"text","font":"Liberation Serif","fontStyle":"italic","fontSize":86,"align":"left","baseline":"alphabetic","color":"black"},
 "encoding":{"x":{"field":"x","type":"quantitative","scale":{"domain":[-9.3668,6.8104],"nice":false,"zero":false}},"y":{"field":"y","type":"quantitative","scale":{"domain":[-4.1926,1.6557],"nice":false,"zero":false}},"text":{"field":"t"}}},
{"data":{"name":"btxt"},"transform":[{"filter":"datum.r == 'p'"}],"mark":{"type":"text","font":"Liberation Serif","fontSize":80,"align":"left","baseline":"alphabetic","color":"black"},
 "encoding":{"x":{"field":"x","type":"quantitative","scale":{"domain":[-9.3668,6.8104],"nice":false,"zero":false}},"y":{"field":"y","type":"quantitative","scale":{"domain":[-4.1926,1.6557],"nice":false,"zero":false}},"text":{"field":"t"}}},
{"data":{"name":"btxt"},"transform":[{"filter":"datum.r == 'q'"}],"mark":{"type":"text","font":"Liberation Serif","fontSize":72,"align":"left","baseline":"alphabetic","color":"black"},
 "encoding":{"x":{"field":"x","type":"quantitative","scale":{"domain":[-9.3668,6.8104],"nice":false,"zero":false}},"y":{"field":"y","type":"quantitative","scale":{"domain":[-4.1926,1.6557],"nice":false,"zero":false}},"text":{"field":"t"}}},
{"data":{"name":"btxt"},"transform":[{"filter":"datum.r == 'b'"}],"mark":{"type":"text","font":"Liberation Serif","fontWeight":"bold","fontSize":72,"align":"left","baseline":"alphabetic","color":"black"},
 "encoding":{"x":{"field":"x","type":"quantitative","scale":{"domain":[-9.3668,6.8104],"nice":false,"zero":false}},"y":{"field":"y","type":"quantitative","scale":{"domain":[-4.1926,1.6557],"nice":false,"zero":false}},"text":{"field":"t"}}}
]
}
